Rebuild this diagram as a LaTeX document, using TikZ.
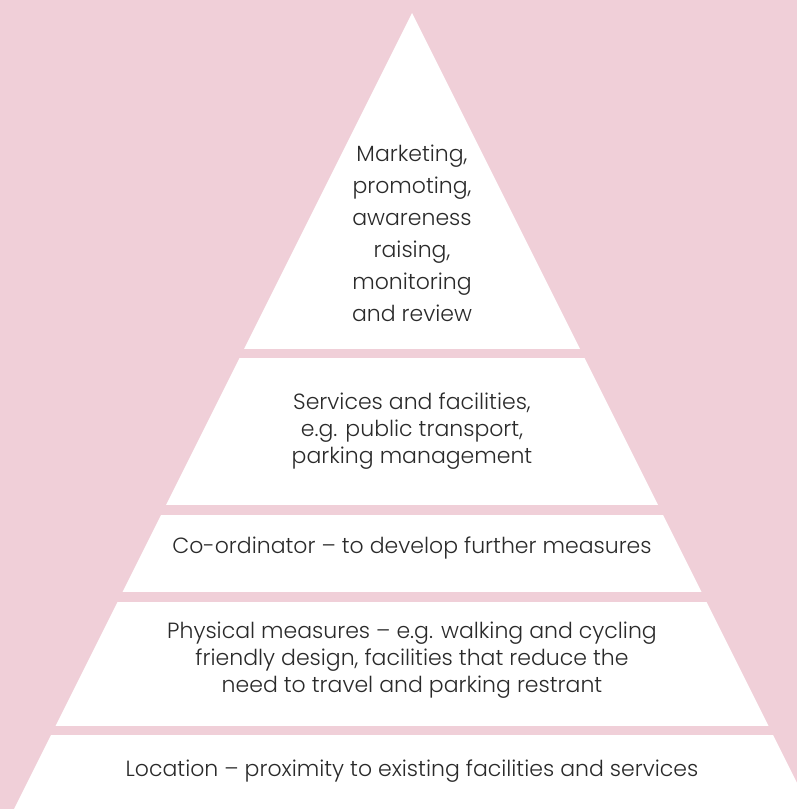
\documentclass[tikz,border=0pt]{standalone}
\usepackage{fontspec}
\setmainfont{Poppins Light}
\usepackage{tikz}
\usetikzlibrary{positioning}
\definecolor{pyrpink}{HTML}{F0CFD8}
\definecolor{pyrink}{HTML}{2A2A2A}
\tikzset{
  tier/.style={align=center,inner sep=0pt,text=pyrink,
               font=\fontsize{22}{27}\selectfont},
  toptier/.style={tier,font=\fontsize{22}{32}\selectfont},
  gapbar/.style={fill=pyrpink,draw=none},
}

\begin{document}
\begin{tikzpicture}[x=1pt,y=-1pt]
\useasboundingbox (0,0) rectangle (797,809);
\fill[pyrpink] (0,0) rectangle (797,809);
% white pyramid, cut into tiers by pink bars
\begin{scope}
  \clip (0,0) rectangle (797,809);
  \fill[white] (412,13) -- (14,809) -- (810,809) -- cycle;
\end{scope}
\foreach \ya/\yb in {349/358,505/515,592/602,726/735}
  \fill[gapbar] (0,\ya) rectangle (797,\yb);

\node[toptier] (market) at (412,233)
  {Marketing,\\promoting,\\awareness\\raising,\\monitoring\\and review};
\node[tier] (services) at (412,431)
  {Services and facilities,\\e.g. public transport,\\parking management};
\node[tier] (coord) at (412,548)
  {Co-ordinator -- to develop further measures};
\node[tier] (physical) at (412,660)
  {Physical measures -- e.g. walking and cycling\\friendly design, facilities that reduce the\\need to travel and parking restrant};
\node[tier] (location) at (412,771)
  {Location -- proximity to existing facilities and services};
\end{tikzpicture}
\end{document}
